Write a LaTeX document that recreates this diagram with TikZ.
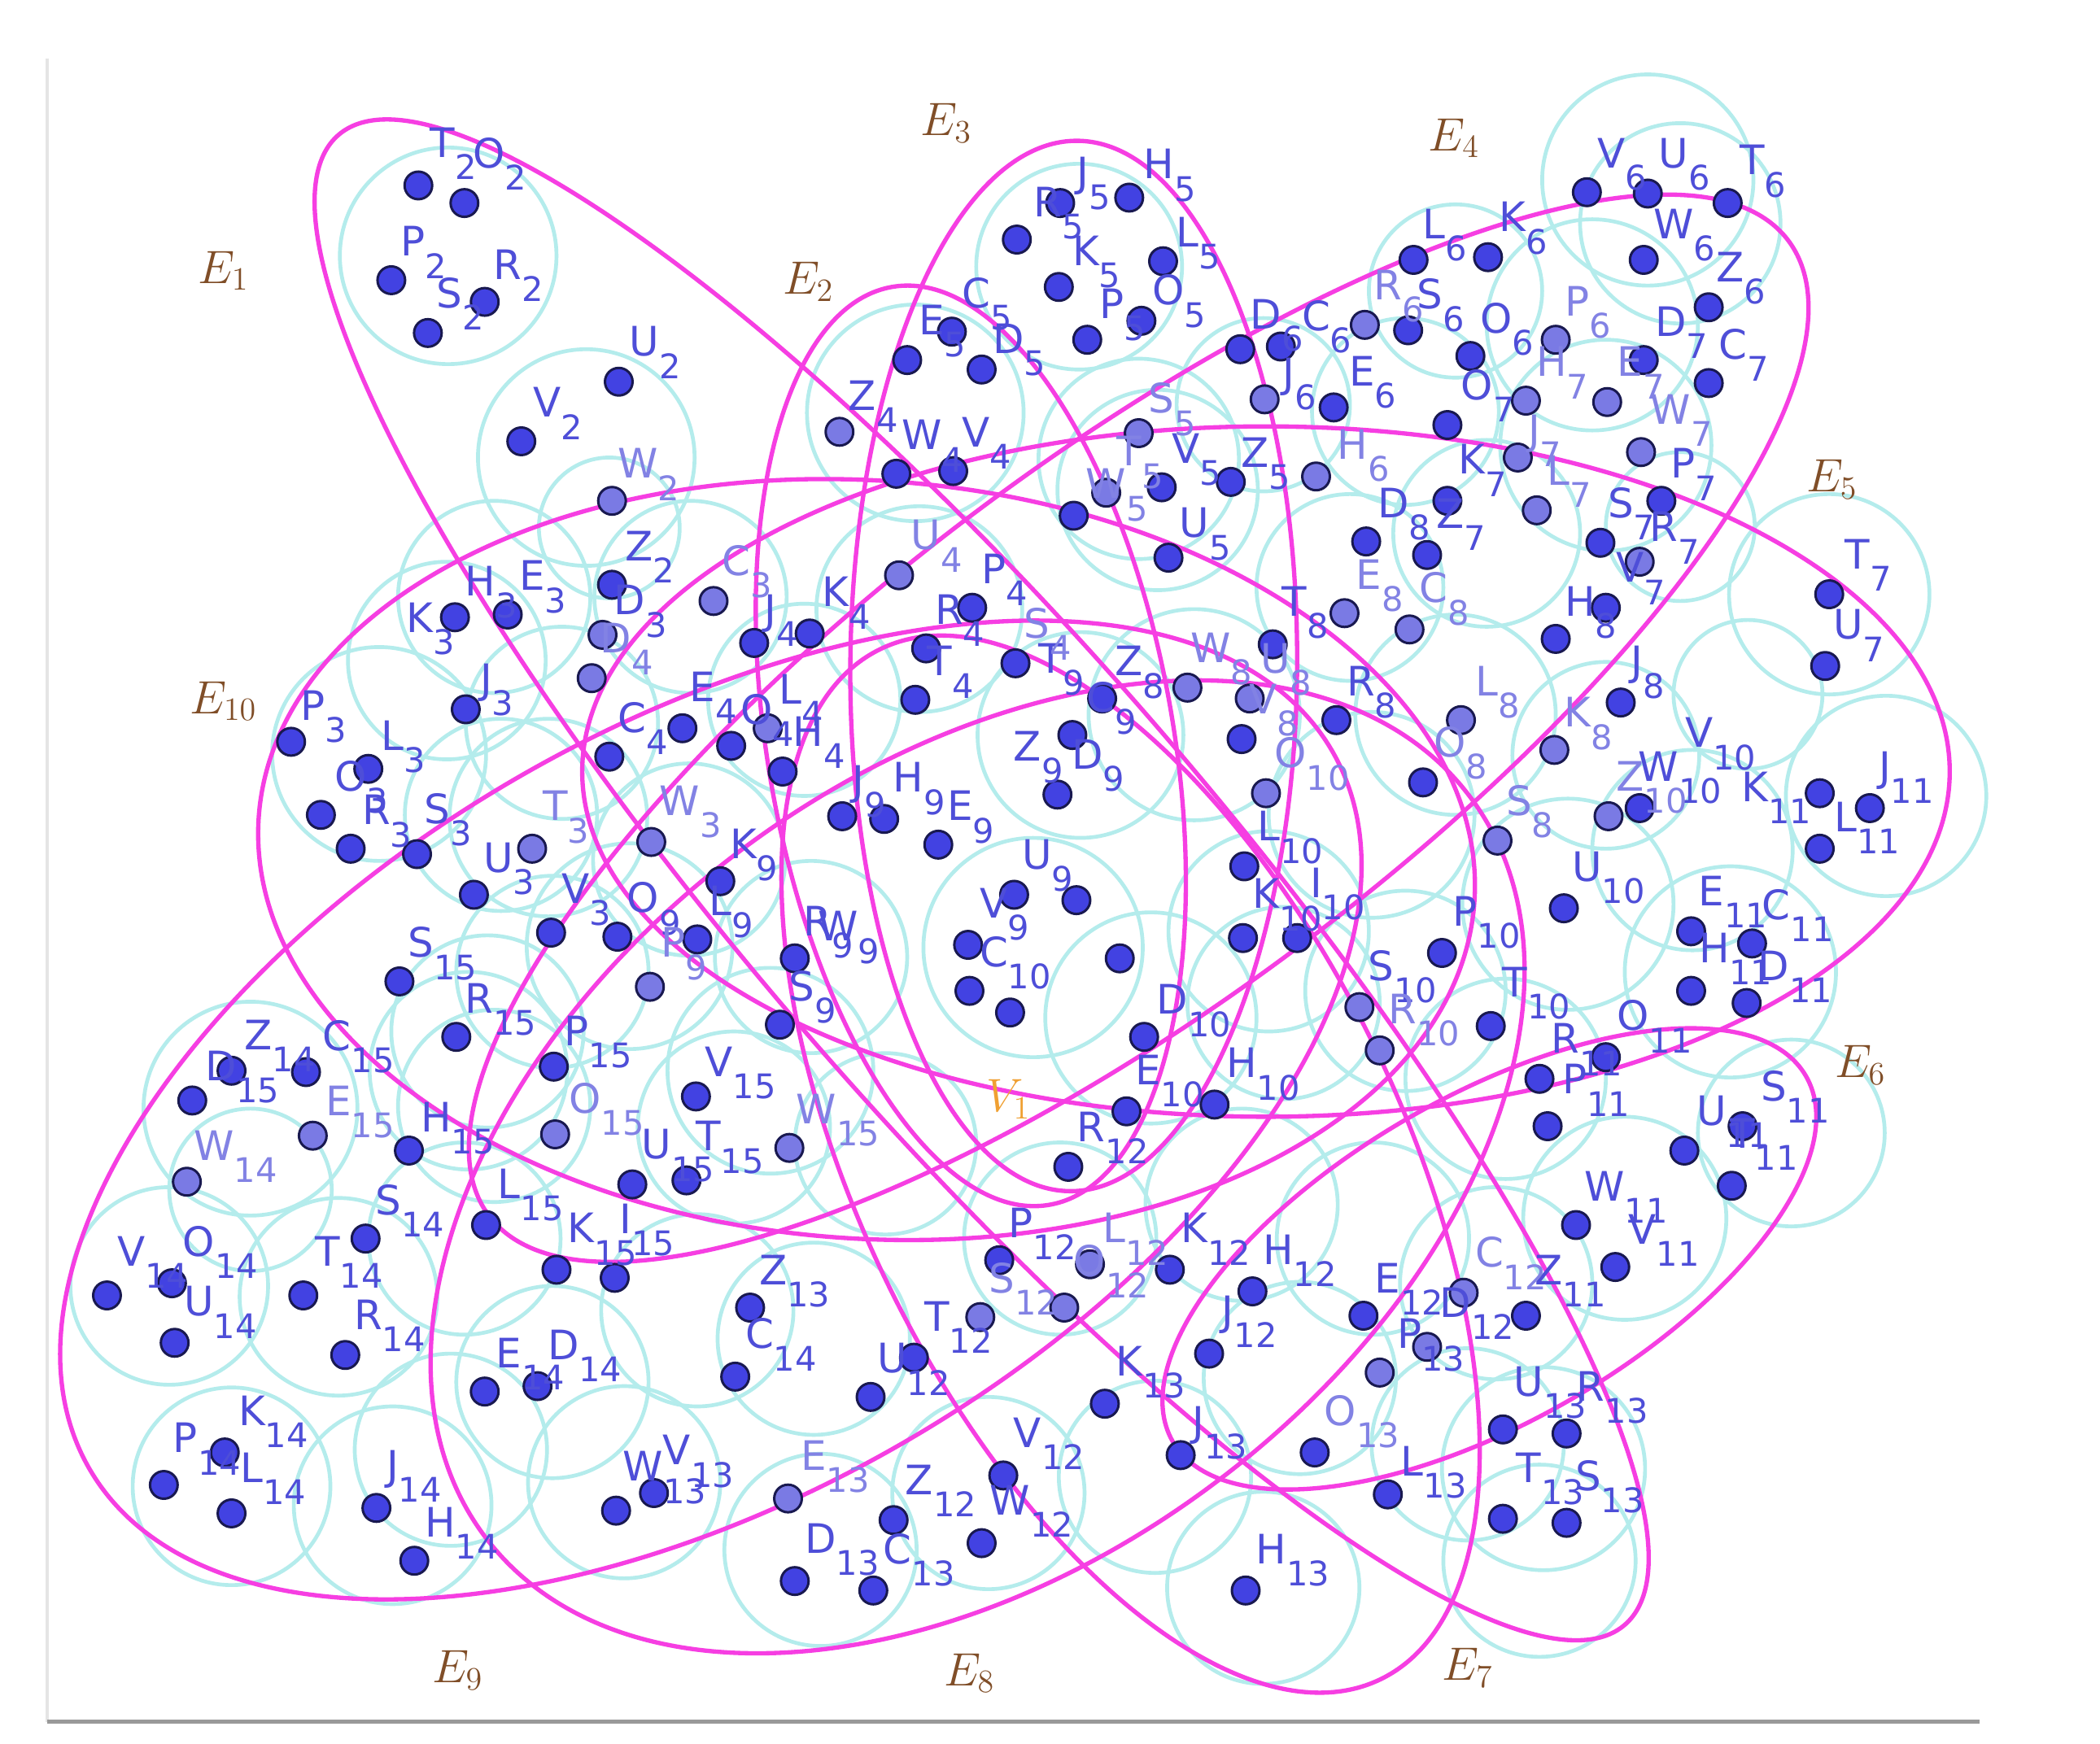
\documentclass[tikz,border=0pt]{standalone}
\usepackage{fontspec}
\newfontfamily\lf{DejaVu Sans}
\definecolor{cCy}{RGB}{180,236,236}
\definecolor{cMag}{RGB}{246,62,226}
\definecolor{cDotD}{RGB}{66,66,226}
\definecolor{cDotL}{RGB}{122,122,228}
\definecolor{cDotLine}{RGB}{25,25,80}
\definecolor{cLabD}{RGB}{78,78,216}
\definecolor{cLabL}{RGB}{130,130,228}
\definecolor{cBrown}{RGB}{128,78,40}
\definecolor{cOrange}{RGB}{240,160,50}
\newcommand{\sbx}[1]{\raisebox{-8.2pt}{\fontsize{12.5}{12.5}\selectfont #1}}
\tikzset{
  cyline/.style={draw=cCy, line width=1.4pt},
  magline/.style={draw=cMag, line width=1.6pt},
  dotd/.style={fill=cDotD, draw=cDotLine, line width=0.9pt},
  dotl/.style={fill=cDotL, draw=cDotLine, line width=0.9pt},
  labd/.style={text=cLabD, font=\lf\fontsize{15}{15}\selectfont, inner sep=0pt, anchor=base, yshift=-5.6pt},
  labl/.style={text=cLabL, font=\lf\fontsize{15}{15}\selectfont, inner sep=0pt, anchor=base, yshift=-5.6pt},
  elab/.style={text=cBrown, font=\fontsize{18}{18}\selectfont, inner sep=0pt},
  vlab/.style={text=cOrange, font=\fontsize{18}{18}\selectfont, inner sep=0pt}
}
\begin{document}
\begin{tikzpicture}[x=0.5pt,y=-0.5pt]
\fill[white] (0,0) rectangle (1551,1288);
\useasboundingbox (0,0) rectangle (1551,1288);
% frame
\draw[line width=1.2pt, black!10] (35,43) -- (35,1272);
\draw[line width=1.4pt, black!40] (35,1272) -- (1462,1272);
% cyan circles
\foreach \x/\y/\r in {331/189/80, 433/338/80, 450/390/52,
 797/197/76, 676/305/80, 855/362/74,
 1217/133/78, 1075/215/64, 1176/240/78, 1241/165/74, 1038/304/69, 1186/329/78, 1098/394/69, 1241/389/55, 997/434/69, 1351/439/74, 1291/513/55, 1393/588/74, 1075/528/74, 1186/558/69, 1250/628/74, 1158/668/78, 1278/718/78, 1038/732/74, 937/688/74, 882/528/78, 850/752/78, 1112/797/74, 1323/837/69, 933/299/64, 841/339/74,
 510/441/71, 365/441/71, 415/534/71, 679/450/76, 594/517/71, 798/543/76, 763/700/81, 370/602/71, 509/635/71, 599/707/71, 465/699/76, 360/762/71, 569/791/76, 1013/602/76, 948/741/71,
 408/718/71, 365/817/71, 542/833/71, 654/845/67, 783/915/71, 917/890/71, 1014/915/71, 1105/948/71, 960/1018/71, 601/989/71, 515/968/71, 343/915/71, 408/1021/71, 333/1071/71, 461/1095/71, 606/1145/71, 730/1103/71, 853/1091/71, 933/1173/71, 1084/1067/71, 1137/1153/71, 1140/1085/75, 1200/900/75,
 125/950/73, 250/958/73, 171/1098/73, 290/1112/73, 185/879/60,
 280/557/79, 330/488/73, 405/604/73, 185/819/79, 346/791/73}
 \draw[cyline] (\x,\y) circle [radius=\r];
% hyperedges
\draw[magline, rotate around={-49.2:(725,650)}] (725,650) ellipse [x radius=727, y radius=172];
\draw[magline, rotate around={99.7:(717,551)}] (717,551) ellipse [x radius=344, y radius=150];
\draw[magline, rotate around={89.6:(793,492)}] (793,492) ellipse [x radius=388, y radius=165];
\draw[magline, rotate around={36.9:(841,538)}] (841,538) ellipse [x radius=600, y radius=200];
\draw[magline] (935,570) ellipse [x radius=505, y radius=255];
\draw[magline, rotate around={30:(1100,930)}] (1100,930) ellipse [x radius=270, y radius=120];
\draw[magline, rotate around={115.9:(835,860)}] (835,860) ellipse [x radius=423, y radius=200];
\draw[magline, rotate around={36.9:(722,862)}] (722,862) ellipse [x radius=455, y radius=292];
\draw[magline, rotate around={30:(525,820)}] (525,820) ellipse [x radius=530, y radius=284];
\draw[magline, rotate around={-4:(640,635)}] (640,635) ellipse [x radius=450, y radius=280];
% dark dots
\foreach \x/\y in {309/137, 343/150, 289/207, 358/223, 316/246, 457/282, 385/326,
 834/146, 783/150, 751/177, 859/193, 843/237, 782/212, 803/251, 703/245, 670/266, 725/273, 662/350, 704/348, 858/360, 909/356, 793/381, 863/412, 916/258, 946/256, 985/301, 1009/400,
 1172/142, 1217/143, 1276/150, 1214/192, 1044/192, 1099/190, 1262/227, 1040/244, 1086/263, 1262/283, 1214/266, 1069/314, 1069/370, 1227/370, 1182/401, 1054/410, 1351/439, 1348/492, 1149/472, 1186/449, 940/476, 814/516, 917/546, 987/532, 1051/578, 1197/519, 1211/597, 1344/586, 1381/597, 1344/627, 919/640, 918/693, 958/693, 1155/671, 1065/704, 1249/688, 1294/697, 1249/732, 1290/741, 1101/758, 845/766, 897/816, 832/821, 1137/797, 1186/781, 1143/832, 1244/850, 1287/832, 795/665, 827/708, 789/862,
 452/432, 336/456, 375/454, 344/524, 557/475, 598/468, 718/449, 684/479, 750/490, 676/517, 792/543, 781/587, 622/603, 653/605, 693/624, 749/661, 715/698, 716/732, 746/748, 504/538, 450/559, 540/551, 578/570, 350/661, 532/651, 407/689, 456/692, 515/694, 587/708, 576/757, 337/766, 409/788, 514/810,
 215/548, 272/568, 237/602, 259/627, 308/631, 295/725, 171/791, 226/792, 142/813, 302/850,
 507/872, 467/875, 359/905, 411/938, 454/944, 554/966, 543/1017, 358/1028, 397/1024, 483/1103, 455/1116, 306/1153, 660/1123, 587/1168, 645/1175, 725/1140, 741/1090, 643/1032, 675/1003, 738/931, 864/938, 925/954, 893/1000, 816/1037, 872/1075, 971/1073, 1025/1104, 1007/972, 1127/972, 1110/1056, 1110/1122, 920/1175, 1164/905, 1193/936, 1279/876, 1157/1059, 1157/1125,
 270/915, 79/957, 127/948, 224/957, 129/992, 255/1001, 166/1073, 121/1097, 171/1118, 278/1114}
 \fill[dotd] (\x,\y) circle (5.1pt);
% light dots
\foreach \x/\y in {452/370, 620/319, 841/320, 817/364, 1008/240, 934/295, 972/352, 664/425, 1149/251, 1127/296, 1187/297, 1121/338, 1212/334, 1135/377, 1211/415, 993/453, 1041/465, 877/508, 923/516, 1079/532, 935/586, 1148/554, 1106/621, 1188/603, 1004/744, 1019/776, 445/469, 437/501, 527/444, 567/538, 393/627, 481/622, 480/729, 231/839, 410/838, 583/848, 582/1107, 724/973, 786/966, 805/934, 1019/1014, 1081/955, 1054/995, 138/873}
 \fill[dotl] (\x,\y) circle (5.1pt);
% dark labels
\foreach \x/\y/\L/\s [count=\i] in {327/105/T/2, 361/113/O/2, 305/178/P/2, 332/216/S/2, 375/195/R/2, 476/252/U/2, 404/297/V/2, 472/403/Z/2,
 465/443/D/3, 355/429/H/3, 393/425/E/3, 310/456/K/3, 359/501/J/3, 231/521/P/3, 290/543/L/3, 259/573/O/3, 278/598/R/3, 323/597/S/3, 368/633/U/3, 425/656/V/3,
 569/450/J/4, 617/437/K/4, 734/420/P/4, 701/450/R/4, 694/488/T/4, 519/507/E/4, 559/524/O/4, 584/509/L/4, 597/540/H/4, 467/530/C/4, 637/292/Z/4, 681/321/W/4, 721/319/V/4,
 800/127/J/5, 856/121/H/5, 774/149/R/5, 802/185/K/5, 877/171/L/5, 863/214/O/5, 721/216/C/5, 821/224/P/5, 688/236/E/5, 745/250/D/5, 876/331/V/5, 927/334/Z/5, 882/386/U/5,
 935/232/D/6, 972/233/C/6, 952/275/J/6, 1006/274/E/6, 1190/113/V/6, 1236/113/U/6, 1294/118/T/6, 1059/165/L/6, 1117/160/K/6, 1236/165/W/6, 1278/197/Z/6, 1056/217/S/6, 1105/235/O/6,
 1234/237/D/7, 1280/254/C/7, 1091/284/O/7, 1087/339/K/7, 1243/342/P/7, 1071/379/Z/7, 1197/371/S/7, 1229/389/R/7, 1204/419/V/7, 1372/409/T/7, 1365/461/U/7,
 1029/371/D/8, 956/444/T/8, 834/488/Z/8, 1005/503/R/8, 1167/444/H/8, 1209/488/J/8,
 776/486/T/9, 813/515/C/9, 634/576/J/9, 671/574/H/9, 709/595/E/9, 759/551/Z/9, 803/557/D/9, 549/623/K/9, 532/665/L/9, 766/631/U/9, 734/667/V/9, 604/680/R/9, 619/684/W/9, 592/728/S/9, 475/663/O/9,
 734/703/C/10, 937/610/L/10, 935/660/K/10, 972/652/I/10, 1255/541/V/10, 1225/566/W/10, 1172/640/U/10, 1082/673/P/10, 1020/713/S/10, 1119/725/T/10, 866/738/D/10, 848/790/E/10, 917/785/H/10,
 1296/581/K/11, 1392/566/J/11, 1363/603/L/11, 1264/658/E/11, 1312/668/C/11, 1266/700/H/11, 1310/713/D/11, 1206/750/O/11, 1156/767/R/11, 1163/797/P/11, 1310/802/S/11, 1264/820/U/11, 1287/837/T/11, 1185/876/W/11, 1213/908/V/11, 1144/938/Z/11,
 806/832/R/12, 754/903/P/12, 882/907/K/12, 944/923/H/12, 907/968/J/12, 692/972/T/12, 659/1003/U/12, 1025/944/E/12, 1075/962/D/12, 679/1093/Z/12, 746/1108/W/12, 759/1058/V/12,
 571/938/Z/13, 834/1005/K/13, 885/1050/J/13, 1043/1079/L/13, 1041/985/P/13, 1129/1020/U/13, 1175/1024/R/13, 1129/1084/T/13, 1173/1090/S/13, 606/1136/D/13, 663/1144/C/13, 939/1144/H/13, 475/1083/W/13, 500/1071/V/13,
 561/985/C/14, 376/999/E/14, 416/993/D/14, 287/886/S/14, 242/924/T/14, 147/917/O/14, 97/924/V/14, 147/961/U/14, 272/971/R/14, 186/1042/K/14, 137/1062/P/14, 186/1084/L/14, 290/1082/J/14, 325/1124/H/14, 191/764/Z/14,
 311/696/S/15, 354/737/R/15, 426/761/P/15, 531/784/V/15, 322/825/H/15, 485/845/U/15, 523/839/T/15, 376/874/L/15, 429/907/K/15, 462/900/I/15, 249/765/C/15, 163/787/D/15}
 \node[labd] (ld\i) at (\x,\y) {\L\rlap{\sbx{\s}}};
% light labels
\foreach \x/\y/\L/\s [count=\i] in {471/342/W/2, 455/471/D/4, 544/414/C/3, 684/395/U/4, 766/460/S/4, 858/294/S/5, 834/333/T/5, 817/357/W/5, 999/328/H/6, 1025/210/R/6, 1165/222/P/6, 1146/267/H/7, 1204/267/E/7, 1234/302/W/7, 1133/317/J/7, 1151/347/L/7, 1011/424/E/8, 1059/434/C/8, 894/478/W/8, 942/486/U/8, 933/516/V/8, 1098/503/L/8, 1165/526/K/8, 1071/548/O/8, 1122/591/S/8, 953/556/O/10, 1204/573/Z/10, 1036/745/R/10, 410/595/T/3, 502/591/W/3, 497/696/P/9, 432/811/O/15, 603/819/W/15, 823/907/L/12, 805/931/O/12, 740/944/S/12, 1100/925/C/12, 601/1075/E/13, 990/1042/O/13, 250/813/E/15, 158/846/W/14}
 \node[labl] (ll\i) at (\x,\y) {\L\rlap{\sbx{\s}}};
% hyperedge labels
\node[elab] (e1) at (165,200) {$E_{1}$};
\node[elab] (e2) at (597,208) {$E_{2}$};
\node[elab] (e3) at (699,91) {$E_{3}$};
\node[elab] (e4) at (1074,102) {$E_{4}$};
\node[elab] (e5) at (1353,354) {$E_{5}$};
\node[elab] (e6) at (1374,787) {$E_{6}$};
\node[elab] (e7) at (1084,1232) {$E_{7}$};
\node[elab] (e8) at (716,1236) {$E_{8}$};
\node[elab] (e9) at (338,1234) {$E_{9}$};
\node[elab] (e10) at (165,518) {$E_{10}$};
\node[vlab] (v1) at (745,812) {$V_{1}$};
\end{tikzpicture}
\end{document}
